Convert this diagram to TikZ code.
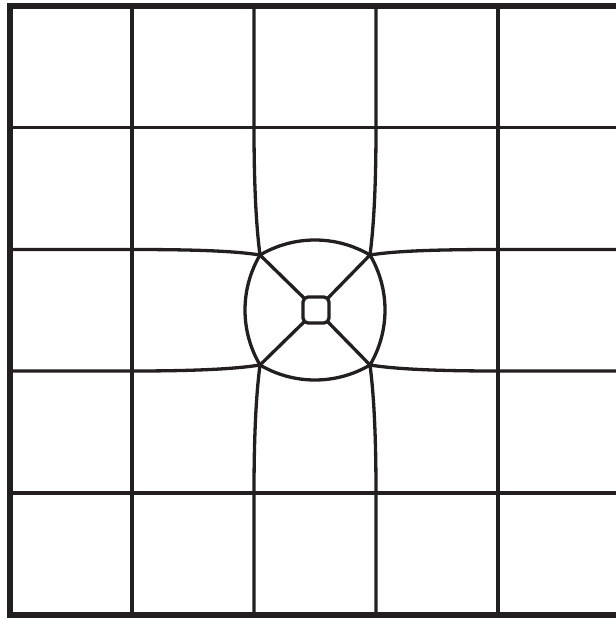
\documentclass[tikz,border=0pt]{standalone}
\definecolor{ink}{HTML}{231F20}
\begin{document}
\begin{tikzpicture}[x=1pt,y=-1pt,
  gridline/.style={draw=ink,line width=3.3pt},
  frameline/.style={draw=ink,line width=6.5pt,line join=miter}]
\useasboundingbox (0,0) rectangle (616,619);
% frame (left, top, bottom; right side open)
\draw[frameline] (616,6) -- (10,6) -- (10,615) -- (616,615);
% straight grid lines
\draw[gridline] (132,6) -- (132,615);
\draw[gridline] (498,6) -- (498,615);
\draw[gridline] (10,127.5) -- (616,127.5);
\draw[gridline] (10,493) -- (616,493);
% corner points of the lens
\coordinate (TL) at (260,255);
\coordinate (TR) at (370,255);
\coordinate (BL) at (260,365);
\coordinate (BR) at (370,365);
% distorted vertical lines
\draw[gridline] (254,6) -- (254,127.5) .. controls (254,195) and (257,232) .. (TL);
\draw[gridline] (376,6) -- (376,127.5) .. controls (376,195) and (373,232) .. (TR);
\draw[gridline] (BL) .. controls (257,388) and (254,425) .. (254,493) -- (254,615);
\draw[gridline] (BR) .. controls (373,388) and (376,425) .. (376,493) -- (376,615);
% distorted horizontal lines
\draw[gridline] (10,249.5) -- (132,249.5) .. controls (195,249.5) and (235,251) .. (TL);
\draw[gridline] (616,249.5) -- (498,249.5) .. controls (435,249.5) and (395,251) .. (TR);
\draw[gridline] (10,371) -- (132,371) .. controls (195,371) and (235,369) .. (BL);
\draw[gridline] (616,371) -- (498,371) .. controls (435,371) and (395,369) .. (BR);
% lens outline (four arcs)
\draw[gridline] (TL) .. controls (294,235) and (336,235) .. (TR)
  .. controls (390,289) and (390,331) .. (BR)
  .. controls (336,385) and (294,385) .. (BL)
  .. controls (240,331) and (240,289) .. (TL);
% inner square
\draw[gridline,rounded corners=5pt] (303,297) rectangle (329,323);
% diagonals
\draw[gridline] (TL) -- (304.5,298.5);
\draw[gridline] (TR) -- (327.5,298.5);
\draw[gridline] (BL) -- (304.5,321.5);
\draw[gridline] (BR) -- (327.5,321.5);
\end{tikzpicture}
\end{document}
